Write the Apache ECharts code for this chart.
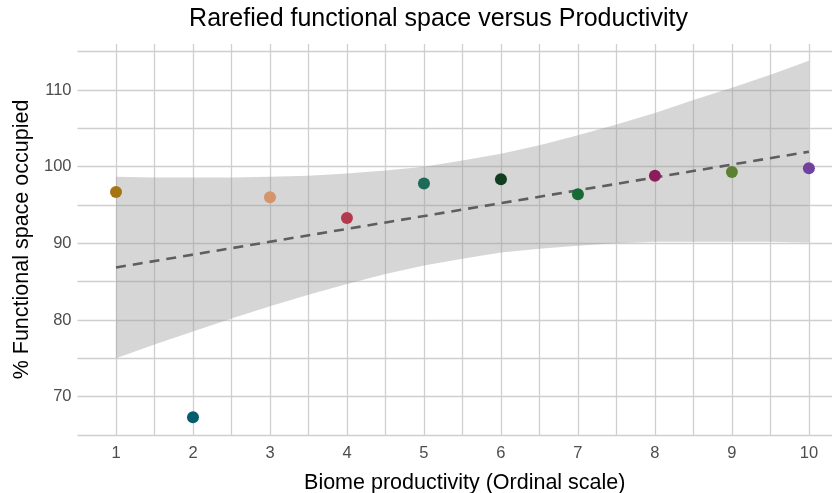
<!DOCTYPE html>
<html><head><meta charset="utf-8">
<script src="https://cdn.jsdelivr.net/npm/echarts@6/dist/echarts.min.js"></script>
<style>html,body{margin:0;padding:0;background:#fff}#c{width:832px;height:493px}</style>
</head><body><div id="c"></div>
<script>
const productivity = [1, 2, 3, 4, 5, 6, 7, 8, 9, 10];
const functionalSpace = [96.7, 67.3, 96.0, 93.3, 97.8, 98.35, 96.4, 98.8, 99.3, 99.8];
const pointColors = ['#A47512', '#075E6B', '#D4956A', '#B23A4C', '#1B6B57', '#133D1F', '#156B31', '#8D1C5A', '#5B8230', '#6F42A0'];
const trendX = [1, 10];
const trendY = [86.85, 101.95];
const bandX = [1, 1.5, 2, 2.5, 3, 3.5, 4, 4.5, 5, 5.5, 6, 6.5, 7, 7.5, 8, 8.5, 9, 9.5, 10];
const bandUpper = [98.7, 98.6, 98.6, 98.6, 98.7, 98.8, 99.1, 99.5, 100.0, 100.8, 101.7, 102.8, 104.1, 105.5, 107.0, 108.7, 110.3, 112.0, 113.8];
const bandLower = [75.0, 76.8, 78.5, 80.2, 81.8, 83.3, 84.7, 86.0, 87.1, 88.0, 88.8, 89.3, 89.7, 90.0, 90.2, 90.2, 90.2, 90.2, 90.1];
const xTickLabels = ['1', '2', '3', '4', '5', '6', '7', '8', '9', '10'];
const yTickLabels = [70, 80, 90, 100, 110];
const titleText = 'Rarefied functional space versus Productivity';
const xName = 'Biome productivity (Ordinal scale)';
const yName = '% Functional space occupied';

const FONT = 'Liberation Sans, Arial, sans-serif';
const gridColor = '#CFCFCF';

const bandData = bandX.map((x, i) => [x, bandLower[i], bandUpper[i]]);

const chart = echarts.init(document.getElementById('c'), null, {renderer: 'canvas'});
const option = {
  animation: false,
  backgroundColor: '#ffffff',
  graphic: [{
    type: 'text', x: 438.5, y: 19,
    style: {text: titleText, font: '25px ' + FONT, fill: '#000000', textAlign: 'center', textVerticalAlign: 'middle'}
  }],
  grid: {left: 77.5, top: 44, right: 0, bottom: 58, containLabel: false, outerBoundsMode: 'none'},
  xAxis: {
    type: 'value', min: 0.5, max: 10.3, interval: 0.5,
    axisLine: {show: false}, axisTick: {show: false},
    axisLabel: {
      color: '#4D4D4D', fontSize: 16.5, fontFamily: FONT, margin: 10,
      showMinLabel: false, showMaxLabel: false,
      formatter: v => (Number.isInteger(v) && v >= 1 && v <= 10) ? xTickLabels[v - 1] : ''
    },
    splitLine: {show: true, showMinLine: false, showMaxLine: false, lineStyle: {color: gridColor, width: 1.3}},
    name: xName, nameLocation: 'middle', nameGap: 37,
    nameTextStyle: {color: '#000000', fontSize: 21.5, fontFamily: FONT, padding: [0, 0, 0, 20]}
  },
  yAxis: {
    type: 'value', min: 65, max: 116, interval: 5,
    axisLine: {show: false}, axisTick: {show: false},
    axisLabel: {
      color: '#4D4D4D', fontSize: 16.5, fontFamily: FONT, margin: 6,
      formatter: v => yTickLabels.includes(v) ? String(v) : ''
    },
    splitLine: {show: true, showMinLine: true, showMaxLine: false, lineStyle: {color: gridColor, width: 1.3}},
    name: yName, nameLocation: 'middle', nameGap: 40,
    nameTextStyle: {color: '#000000', fontSize: 21.5, fontFamily: FONT}
  },
  series: [
    {
      type: 'custom', silent: true, z: 1,
      data: bandData,
      encode: {x: 0, y: [1, 2]},
      renderItem: function (params, api) {
        if (params.dataIndex !== 0) return null;
        const pts = [];
        for (let i = 0; i < bandData.length; i++) pts.push(api.coord([bandData[i][0], bandData[i][2]]));
        for (let i = bandData.length - 1; i >= 0; i--) pts.push(api.coord([bandData[i][0], bandData[i][1]]));
        return {type: 'polygon', shape: {points: pts}, style: {fill: 'rgba(153,153,153,0.4)', stroke: null}};
      }
    },
    {
      type: 'line', symbol: 'none', silent: true,
      data: trendX.map((x, i) => [x, trendY[i]]),
      lineStyle: {color: '#5E5E5E', width: 2.6, type: [10, 7]}, z: 3
    },
    {
      type: 'scatter', symbolSize: 12,
      data: productivity.map((x, i) => ({value: [x, functionalSpace[i]], itemStyle: {color: pointColors[i], opacity: 1}})),
      z: 4
    }
  ]
};
chart.setOption(option);
</script>
</body></html>
